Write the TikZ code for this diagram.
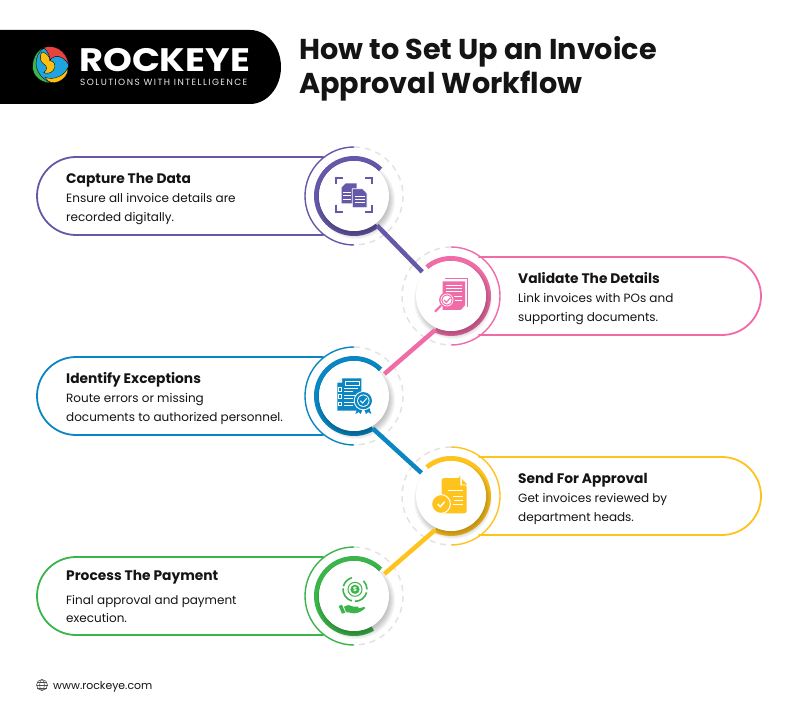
\documentclass[tikz,border=0pt]{standalone}
\usepackage{fontspec}
\setmainfont{Poppins}
\newfontfamily\tagfont[LetterSpace=16]{Poppins}
\newfontfamily\brandfont[FakeStretch=1.13]{Poppins}
\usetikzlibrary{calc}
\definecolor{cpurple}{HTML}{6459A8}
\definecolor{cpink}{HTML}{F06CA8}
\definecolor{cblue}{HTML}{0A86C2}
\definecolor{cyellow}{HTML}{FFC31D}
\definecolor{cgreen}{HTML}{3BB54A}
\definecolor{cdash}{HTML}{E2E2E2}
\definecolor{cink}{HTML}{141414}
\definecolor{lgred}{HTML}{E8433F}
\definecolor{lgblue}{HTML}{1CA5E0}
\definecolor{lggreen}{HTML}{3DB54A}
\definecolor{lgyellow}{HTML}{FDC010}
\tikzset{
  disc/.style={circle,fill=white,minimum size=70pt,inner sep=0pt,outer sep=2.5pt},
  card/.style={draw=#1,line width=1.8pt},
  halo/.style={draw=#1,line width=1.4pt},
  dashhalo/.style={draw=cdash,line width=1.4pt,dash pattern=on 6pt off 5pt},
  band/.style={draw=#1,line width=5pt},
  link/.style={draw=#1,line width=4.5pt},
  headtext/.style={anchor=west,inner sep=0pt,font=\bfseries\fontsize{13.8}{16}\selectfont,text=cink},
  bodytext/.style={anchor=west,inner sep=0pt,font=\fontsize{12}{18.3}\selectfont,text=cink,align=left},
  titletext/.style={anchor=west,inner sep=0pt,font=\bfseries\fontsize{28.7}{34}\selectfont,text=cink,align=left},
  zoomgrid/.style={shift={#1},x=0.3333pt,y=-0.3333pt},
  swirl/.style={fill=#1,draw=black,line width=.35pt},
}
% #1 colour, #2 cy, #3 band end angle, #4 node name
\newcommand{\leftstep}[4]{
  \draw[dashhalo] ($(354,#2)+(90:49pt)$) arc[start angle=90,end angle=-90,radius=49pt];
  \draw[card=#1] (323.7,{#2-39}) -- (76,{#2-39}) arc[start angle=90,end angle=270,radius=39pt] -- (323.7,{#2+39});
  \draw[halo=#1] ($(354,#2)+(90:49pt)$) arc[start angle=90,end angle=270,radius=49pt];
  \draw[band=#1] ($(354,#2)+(45:37.5pt)$) arc[start angle=45,end angle=#3,radius=37.5pt];
  \foreach \r in {33,34,35,36,37,38,39}{\fill[black,opacity=.035] (356,{#2+4}) circle[radius=\r pt];}
  \node[disc] (#4) at (354,#2) {};
}
\newcommand{\rightstep}[3]{
  \draw[dashhalo] ($(451,#2)+(90:49pt)$) arc[start angle=90,end angle=270,radius=49pt];
  \draw[card=#1] (478.3,{#2-39}) -- (722,{#2-39}) arc[start angle=90,end angle=-90,radius=39pt] -- (478.3,{#2+39});
  \draw[halo=#1] ($(451,#2)+(90:49pt)$) arc[start angle=90,end angle=-90,radius=49pt];
  \draw[band=#1] ($(451,#2)+(130:37.5pt)$) arc[start angle=130,end angle=-115,radius=37.5pt];
  \foreach \r in {33,34,35,36,37,38,39}{\fill[black,opacity=.035] (453,{#2+4}) circle[radius=\r pt];}
  \node[disc] (#3) at (451,#2) {};
}
\begin{document}
\begin{tikzpicture}[x=1pt,y=-1pt]
\useasboundingbox (0,0) rectangle (802,719);
\fill[white] (0,0) rectangle (802,719);

% logo banner
\fill[black] (0,30) -- (250,30) arc[start angle=90,end angle=-90,x radius=31pt,y radius=37pt] -- (0,104) -- cycle;
\begin{scope}[zoomgrid={(25,40)}]
  \fill[lgblue] (77,75) circle[radius=17.6pt];
  \fill[swirl=lggreen] (56,23) .. controls (26,32) and (12,85) .. (32,108) .. controls (42,122) and (60,129) .. (78,128) .. controls (60,122) and (36,104) .. (33,72) .. controls (32,52) and (42,35) .. (56,23) -- cycle;
  \fill[swirl=lgyellow] (50,37) .. controls (62,36) and (76,50) .. (74,62) .. controls (88,62) and (96,78) .. (84,92) .. controls (78,99) and (66,102) .. (56,98) .. controls (68,90) and (68,78) .. (56,72) .. controls (46,66) and (42,50) .. (50,37) -- cycle;
  \fill[swirl=lgyellow] (60,112) .. controls (85,122) and (118,108) .. (128,84) .. controls (132,106) and (108,130) .. (80,128) .. controls (72,127) and (65,120) .. (60,112) -- cycle;
  \fill[swirl=lgred] (56,23) .. controls (85,12) and (124,28) .. (131,74) .. controls (122,58) and (106,46) .. (90,50) .. controls (82,52) and (78,56) .. (76,60) .. controls (74,44) and (66,32) .. (56,23) -- cycle;
\end{scope}
\node[anchor=west,inner sep=0pt,text=white,font=\brandfont\bfseries\fontsize{32.5}{36}\selectfont] (brand) at (79,60) {ROCKEYE};
\node[anchor=west,inner sep=0pt,text=white!92!black,font=\tagfont\fontsize{9}{10}\selectfont] (tag) at (80,82.5) {SOLUTIONS WITH INTELLIGENCE};

\node[titletext] (title) at (299,69) {How to Set Up an Invoice\\Approval Workflow};

% steps
\leftstep{cpurple}{196}{308}{c1}
\rightstep{cpink}{296}{c2}
\leftstep{cblue}{396}{300}{c3}
\rightstep{cyellow}{496}{c4}
\leftstep{cgreen}{596}{300}{c5}

% connectors
\draw[link=cpurple] (c1.-52) -- (c2.140);
\draw[link=cpink] (c2.245) -- (c3.36);
\draw[link=cblue] (c3.300) -- (c4.142);
\draw[link=cyellow] (c4.245) -- (c5.36);

% texts
\node[headtext] (h1) at (66,180) {Capture The Data};
\node[bodytext] (b1) at (66,209) {Ensure all invoice details are\\recorded digitally.};
\node[headtext] (h2) at (518,278) {Validate The Details};
\node[bodytext] (b2) at (518,309) {Link invoices with POs and\\supporting documents.};
\node[headtext] (h3) at (66,380) {Identify Exceptions};
\node[bodytext] (b3) at (66,409) {Route errors or missing\\documents to authorized personnel.};
\node[headtext] (h4) at (518,480) {Send For Approval};
\node[bodytext] (b4) at (518,509) {Get invoices reviewed by\\department heads.};
\node[headtext] (h5) at (66,577) {Process The Payment};
\node[bodytext] (b5) at (66,609) {Final approval and payment\\execution.};

% icon 1: scanned documents
\begin{scope}[zoomgrid={(330,170)}]
  \draw[cpurple,line width=2pt] (18,42) -- (18,23) -- (40,23) (105,23) -- (127,23) -- (127,42) (18,104) -- (18,126) -- (40,126) (105,126) -- (127,126) -- (127,104);
  \fill[cpurple] (47,40) -- (80,40) -- (80,100) -- (35,100) -- (35,52) -- cycle;
  \draw[white,line width=.7pt] (40,67) -- (64,67) (40,77) -- (64,77) (40,87) -- (64,87);
  \fill[cpurple,draw=white,line width=.7pt] (67,56) -- (98,56) -- (111,70) -- (111,113) -- (67,113) -- cycle;
  \draw[white,line width=.8pt] (74,78) -- (104,78) (74,88) -- (104,88) (74,98) -- (104,98);
\end{scope}

% icon 2: document under magnifier
\begin{scope}[zoomgrid={(426,270)}]
  \draw[cpink,line width=1pt] (58,25) -- (124,25) -- (124,110);
  \fill[cpink] (50,34) -- (117,34) -- (117,106) -- (104,120) -- (50,120) -- cycle;
  \draw[white,line width=.8pt] (60,45) -- (107,45) (60,55) -- (107,55) (60,65) -- (107,65) (84,78) -- (107,78) (88,90) -- (107,90);
  \draw[cpink,fill=white,line width=1.3pt] (63,90) circle[radius=7.2pt];
  \draw[cpink,line width=1pt] (63,90) circle[radius=5.2pt];
  \draw[cpink,line width=1.1pt] (54,90) -- (61,97) -- (73,84);
  \draw[cpink,line width=2.2pt,line cap=round] (44,108) -- (28,124);
\end{scope}

% icon 3: checklist with badge
\begin{scope}[zoomgrid={(330,370)}]
  \fill[cblue] (38,25) -- (94,25) -- (94,122) -- (22,122) -- (22,40) -- cycle;
  \draw[white,line width=.8pt] (46,34) rectangle (87,46);
  \fill[white] (24,38) -- (36,27) -- (36,38) -- cycle;
  \foreach \yy in {52,73,95}{
    \fill[white] (24,\yy) rectangle (37,{\yy+14});
    \fill[cblue] (27,{\yy+3}) rectangle (34,{\yy+11});
    \draw[white,line width=.8pt] (43,{\yy+3}) -- (84,{\yy+3});
    \draw[white,line width=.8pt] (43,{\yy+11}) -- (70,{\yy+11});
  }
  \fill[cblue] (84,108) -- (76,132) -- (86,126) -- (92,132) -- (100,112) -- cycle;
  \fill[cblue] (116,108) -- (124,132) -- (114,126) -- (108,132) -- (100,112) -- cycle;
  \fill[white] (100,92) circle[radius=9.6pt];
  \fill[cblue] (100,92) circle[radius=8.6pt];
  \fill[white] (100,92) circle[radius=6.2pt];
  \fill[cblue] (100,92) circle[radius=5.4pt];
  \draw[white,line width=1pt] (91,92) -- (98,99) -- (110,85);
\end{scope}

% icon 4: document with check
\begin{scope}[zoomgrid={(426,470)}]
  \fill[cyellow,rounded corners=2.5pt] (47,24) -- (102,24) -- (102,24) -- (122,46) -- (122,130) -- (47,130) -- cycle;
  \fill[white] (103,21) -- (126,21) -- (126,46) -- (122,46) -- (103,46) -- cycle;
  \fill[cyellow] (108,27) -- (124,44) -- (108,44) -- cycle;
  \draw[white,line width=.8pt] (65,60) -- (112,60) (82,80) -- (112,80) (85,92) -- (112,92) (80,104) -- (112,104);
  \draw[white,fill=cyellow,line width=1pt] (45,102) circle[radius=9.4pt];
  \draw[white,line width=1.5pt] (35,102) -- (43,110) -- (56,95);
\end{scope}

% icon 5: payment hand
\begin{scope}[zoomgrid={(330,570)}]
  \draw[cgreen,line width=1.6pt] ([shift={(105:12pt)}]75,58) arc[start angle=105,end angle=165,radius=12pt];
  \draw[cgreen,line width=1.6pt] ([shift={(175:12pt)}]75,58) arc[start angle=175,end angle=255,radius=12pt];
  \draw[cgreen,line width=1.6pt] ([shift={(270:12pt)}]75,58) arc[start angle=270,end angle=345,radius=12pt];
  \draw[cgreen,line width=1.6pt] ([shift={(0:12pt)}]75,58) arc[start angle=0,end angle=45,radius=12pt];
  \draw[cgreen,line width=1pt] (75,58) circle[radius=7pt];
  \fill[cgreen] (75,58) circle[radius=4.6pt];
  \node[text=white,inner sep=0pt,font=\bfseries\fontsize{6}{6}\selectfont] (dollar) at (75,58) {\$};
  \fill[cgreen] (26,108) -- (36,104) -- (46,128) -- (36,131) -- cycle;
  \fill[cgreen] (42,110) .. controls (52,104) and (62,104) .. (70,110) -- (84,110) .. controls (88,112) and (86,116) .. (82,116) -- (94,113) .. controls (100,110) and (108,110) .. (106,114) .. controls (98,122) and (85,130) .. (72,130) -- (48,126) -- cycle;
\end{scope}

% footer
\begin{scope}[draw=black!70,line width=.55pt]
  \draw (42,685) circle[radius=5.5pt];
  \draw (42,685) ellipse[x radius=2.4pt,y radius=5.5pt];
  \draw (36.5,685) -- (47.5,685) (37.3,682) -- (46.7,682) (37.3,688) -- (46.7,688);
\end{scope}
\node[anchor=west,inner sep=0pt,text=cink,font=\fontsize{10.9}{14}\selectfont] (web) at (53,687) {www.rockeye.com};
\end{tikzpicture}
\end{document}
